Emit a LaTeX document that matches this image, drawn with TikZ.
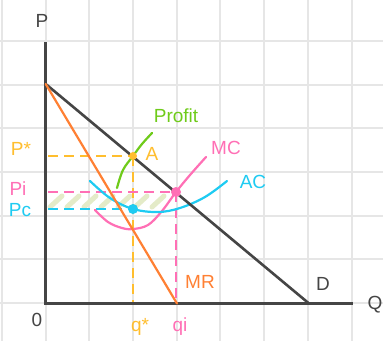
\documentclass[tikz,border=0pt]{standalone}
\usepackage{fontspec}
\setmainfont{Liberation Sans}
\definecolor{gridc}{HTML}{E6E6E6}
\definecolor{axisc}{HTML}{454545}
\definecolor{mrc}{HTML}{FF8033}
\definecolor{pinkc}{HTML}{FF6FB5}
\definecolor{cyanc}{HTML}{1ECBF2}
\definecolor{yelc}{HTML}{FFBE2E}
\definecolor{greenc}{HTML}{6FCB1A}
\definecolor{hatchc}{HTML}{E4EBC8}
\begin{document}
\begin{tikzpicture}[x=1pt,y=-1pt,
  gridline/.style={gridc,line width=2pt},
  axisline/.style={axisc,line width=3pt},
  curveline/.style={line width=2.2pt,line cap=round},
  dashline/.style={line width=2.2pt,dash pattern=on 10pt off 6pt},
  lbl/.style={font=\fontsize{19}{19}\selectfont,inner sep=0pt},
  dot/.style={circle,inner sep=0pt,minimum size=10pt}]
\useasboundingbox (0,0) rectangle (383,341);
\fill[white] (0,0) rectangle (383,341);
\begin{scope}
\clip (0,0) rectangle (383,341);
\foreach \i in {0,...,8} \draw[gridline] ({1.9+43.7*\i},0) -- ({1.9+43.7*\i},341);
\foreach \j in {1,...,7} \draw[gridline] (0,{-2.9+43.7*\j}) -- (383,{-2.9+43.7*\j});
\end{scope}
% points
\coordinate (O) at (45.7,303.5);
\coordinate (Ptop) at (45.7,42);
\coordinate (Qend) at (353,303.5);
\coordinate (Dint) at (45.7,84);
\coordinate (Dend) at (309,303.5);
\coordinate (MRend) at (177,303.5);
\coordinate (A) at (133,156);
\coordinate (I) at (176,192);
\coordinate (C) at (133,209);
\coordinate (Pstar) at (48,156);
\coordinate (Pi) at (48,192);
\coordinate (Pc) at (48,209);
\coordinate (qstar) at (133,303.5);
\coordinate (qi) at (176,303.5);
% hatch
\foreach \x in {50,67,...,165}
  \draw[hatchc,line width=5pt,line cap=round] (\x,207) -- (\x+12,196);
% dashed guides
\draw[dashline,yelc] (Pstar) -- (A);
\draw[dashline,yelc] (A) -- (qstar);
\draw[dashline,pinkc] (Pi) -- (I);
\draw[dashline,pinkc] (I) -- (qi);
\draw[dashline,cyanc] (Pc) -- (C);
% curves
\draw[curveline,pinkc] plot[smooth,tension=0.6] coordinates {(95,210) (108,222) (122,228) (133,229) (148,225) (162,211) (176,192) (190,175) (206,157)};
\draw[curveline,cyanc] plot[smooth,tension=0.6] coordinates {(90,181) (110,198) (133,209) (158,212) (180,208) (205,197) (227,181)};
\draw[curveline,greenc] plot[smooth,tension=0.6] coordinates {(117,188) (123,170) (133,156) (142,144) (152,133)};
% axes and lines
\draw[axisline] (Ptop) -- (O) -- (Qend);
\draw[curveline,axisc,line width=2.6pt] (Dint) -- (Dend);
\draw[curveline,mrc] (Dint) -- (MRend);
% dots
\node[dot,fill=yelc,minimum size=8pt] (dA) at (A) {};
\node[dot,fill=pinkc] (dI) at (I) {};
\node[dot,fill=cyanc] (dC) at (C) {};
% labels
\node[lbl,axisc] (lP) at (42,21) {P};
\node[lbl,axisc] (lQ) at (375,305) {Q};
\node[lbl,axisc] (l0) at (37,320) {0};
\node[lbl,axisc] (lD) at (323,284) {D};
\node[lbl,mrc] (lMR) at (200,282) {MR};
\node[lbl,pinkc] (lMC) at (226,148) {MC};
\node[lbl,cyanc] (lAC) at (253,182) {AC};
\node[lbl,yelc] (lA) at (152,154) {A};
\node[lbl,greenc] (lProfit) at (176,116) {Profit};
\node[lbl,yelc] (lPs) at (21,149) {P*};
\node[lbl,pinkc] (lPi) at (18,189) {Pi};
\node[lbl,cyanc] (lPc) at (20,210) {Pc};
\node[lbl,yelc] (lqs) at (140,327) {q*};
\node[lbl,pinkc] (lqi) at (180,327) {qi};
\end{tikzpicture}
\end{document}
